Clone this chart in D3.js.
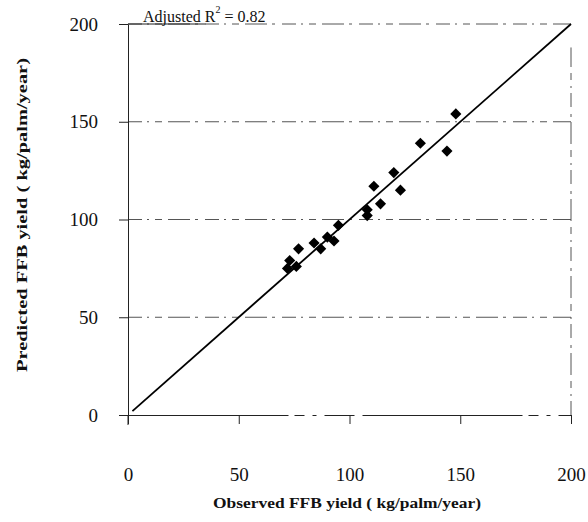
<html>
<head>
  <meta charset="utf-8">
  <script src="https://d3js.org/d3.v7.min.js"></script>
  <style>
    body { margin: 0; background: #fff; }
    text { font-family: "Liberation Serif", "DejaVu Serif", serif; fill: #111; }
    .grid line { stroke: #555; stroke-width: 1; stroke-dasharray: 14,5,2,6,7,6,22,5,3,7; }
    .axis path, .axis line { stroke: #222; }
  </style>
</head>
<body>
  <svg id="chart" width="588" height="522"></svg>
  <script>
    // observed vs predicted FFB yield (kg/palm/year)
    const observed  = [72, 73, 76, 77, 84, 87, 90, 93, 95, 108, 108, 111, 114, 120, 123, 132, 144, 148];
    const predicted = [75, 79, 76, 85, 88, 85, 91, 89, 97, 102, 105, 117, 108, 124, 115, 139, 135, 154];
    const xTicks = [0, 50, 100, 150, 200];
    const yTicks = [0, 50, 100, 150, 200];
    const gridValues = [50, 100, 150, 200];
    const fitLine = [2, 200];

    const svg = d3.select("svg#chart");
    const x = d3.scaleLinear().domain([0, 200]).range([128, 571]);
    const y = d3.scaleLinear().domain([0, 200]).range([415, 24]);

    // horizontal gridlines
    svg.append("g").attr("class", "grid")
      .selectAll("line").data(gridValues).join("line")
      .attr("x1", x(0)).attr("x2", x(200))
      .attr("y1", d => y(d)).attr("y2", d => y(d));

    // right border
    svg.append("g").attr("class", "grid")
      .append("line")
      .attr("x1", x(200)).attr("x2", x(200))
      .attr("y1", y(0)).attr("y2", y(188));

    // solid bit of top line under the annotation
    svg.append("line")
      .attr("x1", x(0)).attr("x2", x(35))
      .attr("y1", y(200)).attr("y2", y(200))
      .attr("stroke", "#222");

    // x axis
    let bottomAxis = d3.axisBottom(x).tickValues(xTicks).tickSize(9).tickPadding(44).tickSizeOuter(0);
    let gx = svg.append("g").attr("class", "axis")
      .attr("transform", `translate(0,${y(0)})`)
      .call(bottomAxis);
    gx.select(".domain").attr("stroke-dasharray", "160,6,10,8,4,8,30,8");
    gx.selectAll("text").style("font-size", "19px");

    // y axis
    let leftAxis = d3.axisLeft(y).tickValues(yTicks).tickSize(9).tickPadding(21).tickSizeOuter(0);
    let gy = svg.append("g").attr("class", "axis")
      .attr("transform", `translate(${x(0)},0)`)
      .call(leftAxis);
    gy.selectAll("text").style("font-size", "19px");
    gy.append("line").attr("x1", 0).attr("x2", 0)
      .attr("y1", y(0)).attr("y2", y(0) + 10).attr("stroke", "#222");

    // 1:1 line
    svg.append("line")
      .attr("x1", x(fitLine[0])).attr("y1", y(fitLine[0]))
      .attr("x2", x(fitLine[1])).attr("y2", y(fitLine[1]))
      .attr("stroke", "#000").attr("stroke-width", 1.8);

    // diamonds
    const diamond = d3.symbol().type(d3.symbolSquare).size(62);
    svg.append("g").selectAll("path.point")
      .data(observed.map((o, i) => ({ o: o, p: predicted[i] })))
      .join("path")
      .attr("class", "point")
      .attr("d", diamond)
      .attr("transform", d => `translate(${x(d.o)},${y(d.p)}) rotate(45)`)
      .attr("fill", "#000");

    // annotation
    let ann = svg.append("text")
      .attr("x", 143).attr("y", y(200) - 2)
      .style("font-size", "16px");
    ann.append("tspan").text("Adjusted  R");
    ann.append("tspan").attr("dy", -9).style("font-size", "10px").text("2");
    ann.append("tspan").attr("dy", 9).text(" = 0.82");

    // axis titles
    svg.append("text")
      .attr("x", 347).attr("y", 508)
      .attr("text-anchor", "middle")
      .attr("textLength", 268).attr("lengthAdjust", "spacingAndGlyphs")
      .style("font-weight", "bold").style("font-size", "15px")
      .text("Observed  FFB  yield  ( kg/palm/year)");

    svg.append("text")
      .attr("transform", `translate(27,215) rotate(-90)`)
      .attr("text-anchor", "middle")
      .attr("textLength", 314).attr("lengthAdjust", "spacingAndGlyphs")
      .style("font-weight", "bold").style("font-size", "15px")
      .text("Predicted FFB yield ( kg/palm/year)");
  </script>
</body>
</html>
